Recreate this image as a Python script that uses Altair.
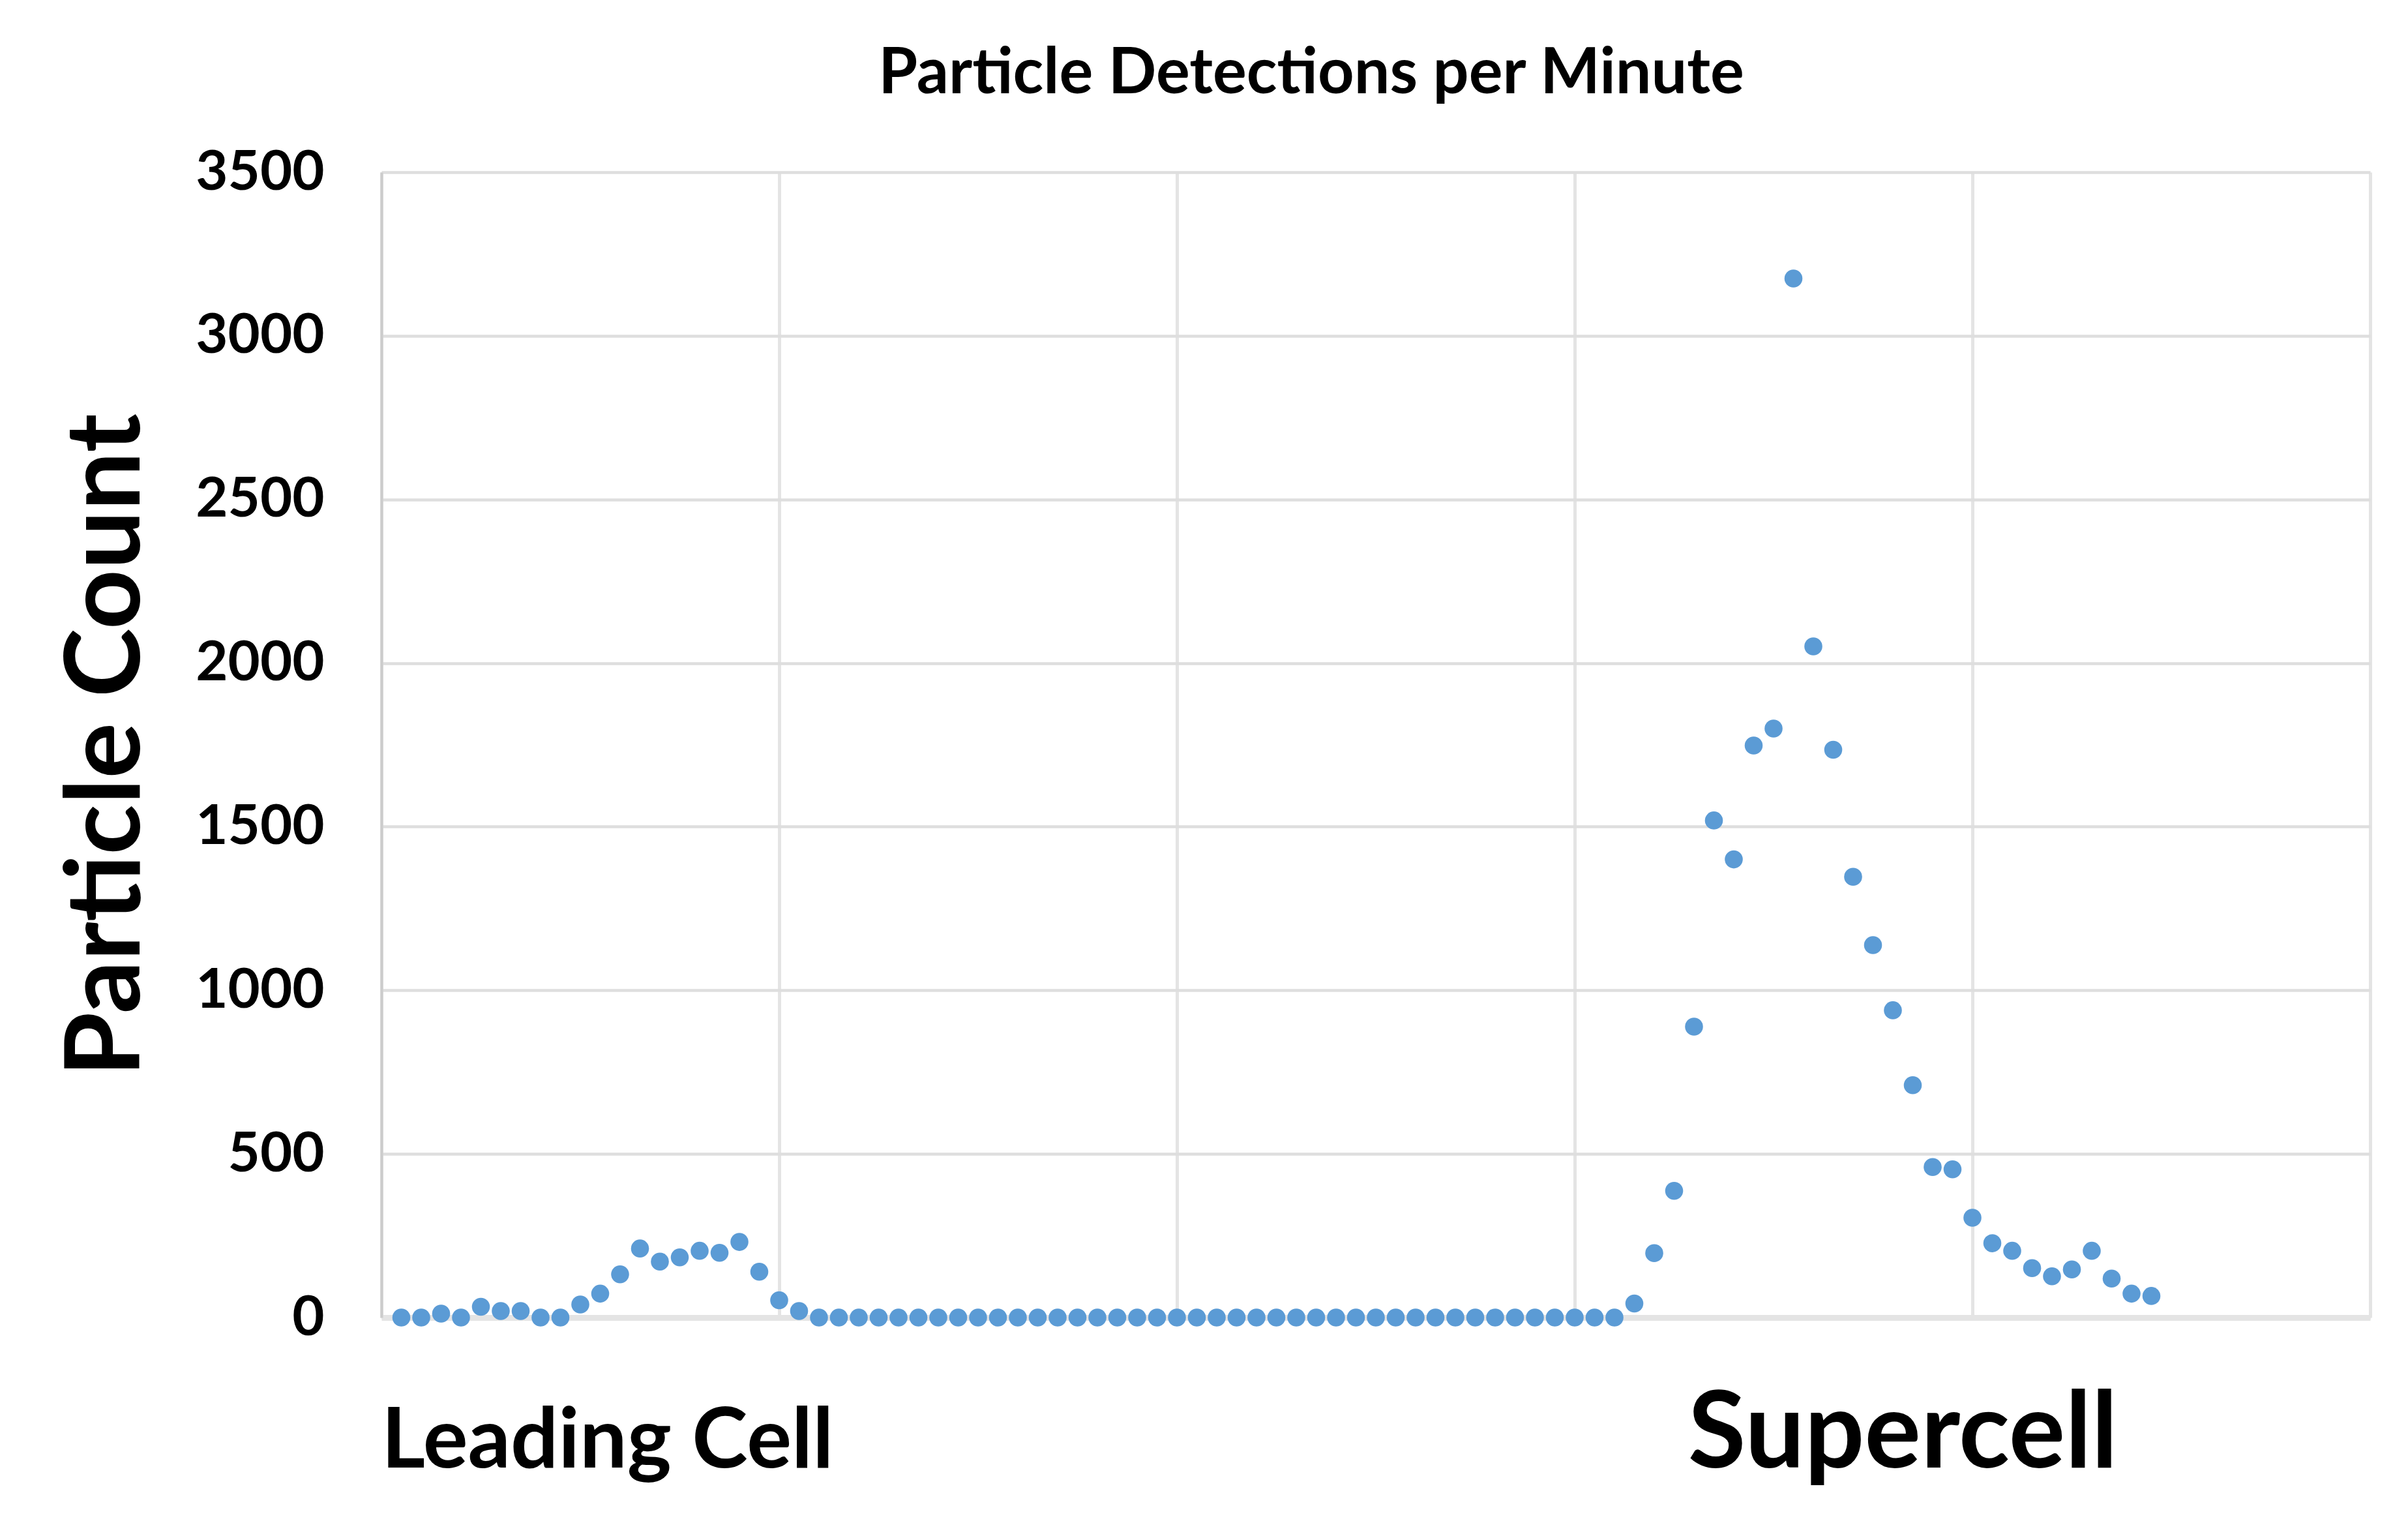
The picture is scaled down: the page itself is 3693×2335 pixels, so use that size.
import altair as alt
import pandas as pd

# ---- data ----
minutes = list(range(1, 90))
counts = [
    0, 0, 12, 0, 33, 20, 20, 0, 0, 40,
    73, 132, 211, 171, 184, 204, 198, 231, 140, 53,
    20, 0, 0, 0, 0, 0, 0, 0, 0, 0,
    0, 0, 0, 0, 0, 0, 0, 0, 0, 0,
    0, 0, 0, 0, 0, 0, 0, 0, 0, 0,
    0, 0, 0, 0, 0, 0, 0, 0, 0, 0,
    0, 0, 43, 197, 387, 889, 1519, 1400, 1748, 1800,
    3175, 2051, 1735, 1347, 1138, 939, 710, 460, 453, 305,
    227, 204, 151, 126, 147, 204, 119, 73, 66,
]
y_ticks = [0, 500, 1000, 1500, 2000, 2500, 3000, 3500]
x_grid = [0, 20, 40, 60, 80, 100]

left_label = ["Leading Cell"]
left_label_x = [0]
right_label = ["Supercell"]
right_label_x = [76.5]

df = pd.DataFrame({"minute": minutes, "count": counts})
df_left = pd.DataFrame({"label": left_label, "x": left_label_x})
df_right = pd.DataFrame({"label": right_label, "x": right_label_x})

FONT = "Lato"
W, H = 3050, 1756

xscale = alt.Scale(domain=[0, 100], nice=False, zero=False)
yscale = alt.Scale(domain=[0, 3500], nice=False)

points = alt.Chart(df).mark_circle(size=760, color="#5B9BD5", opacity=1).encode(
    x=alt.X("minute:Q", scale=xscale,
            axis=alt.Axis(values=x_grid, labels=False, ticks=False, title=None,
                          grid=True, gridColor="#E4E4E4", gridWidth=5,
                          domainColor="#E4E4E4", domainWidth=9)),
    y=alt.Y("count:Q", scale=yscale,
            axis=alt.Axis(values=y_ticks, format="d", ticks=False, grid=True,
                          gridColor="#DEDEDE", gridWidth=4.5,
                          domainColor="#CCCCCC", domainWidth=4,
                          labelFont=FONT, labelFontSize=85, labelFontWeight="bold",
                          labelColor="black", labelPadding=88, labelLimit=1000,
                          title="Particle Count", titleFont=FONT, titleFontSize=160,
                          titleFontWeight="bold", titleColor="black",
                          titleAngle=270, titleAlign="center", titleBaseline="alphabetic",
                          titleX=-372, titleY=H / 2)),
)

text_left = alt.Chart(df_left).mark_text(
    font=FONT, fontSize=129, fontWeight="bold", color="black",
    align="left", baseline="alphabetic"
).encode(x=alt.X("x:Q", scale=xscale), y=alt.value(1986), text="label:N")

text_right = alt.Chart(df_right).mark_text(
    font=FONT, fontSize=162, fontWeight="bold", color="black",
    align="center", baseline="alphabetic"
).encode(x=alt.X("x:Q", scale=xscale), y=alt.value(1986), text="label:N")

chart = alt.layer(points, text_left, text_right).properties(
    width=W, height=H,
    title=alt.TitleParams("Particle Detections per Minute", font=FONT, fontSize=97,
                          fontWeight="bold", color="black", anchor="middle",
                          dx=-99, baseline="alphabetic", offset=-18),
    autosize=alt.AutoSizeParams(type="none"),
    padding={"left": 577, "top": 256, "right": 40, "bottom": 290},
    background="white",
).configure_view(strokeWidth=0)

chart.save("out.html", embed_options={"renderer": "svg", "actions": False})
